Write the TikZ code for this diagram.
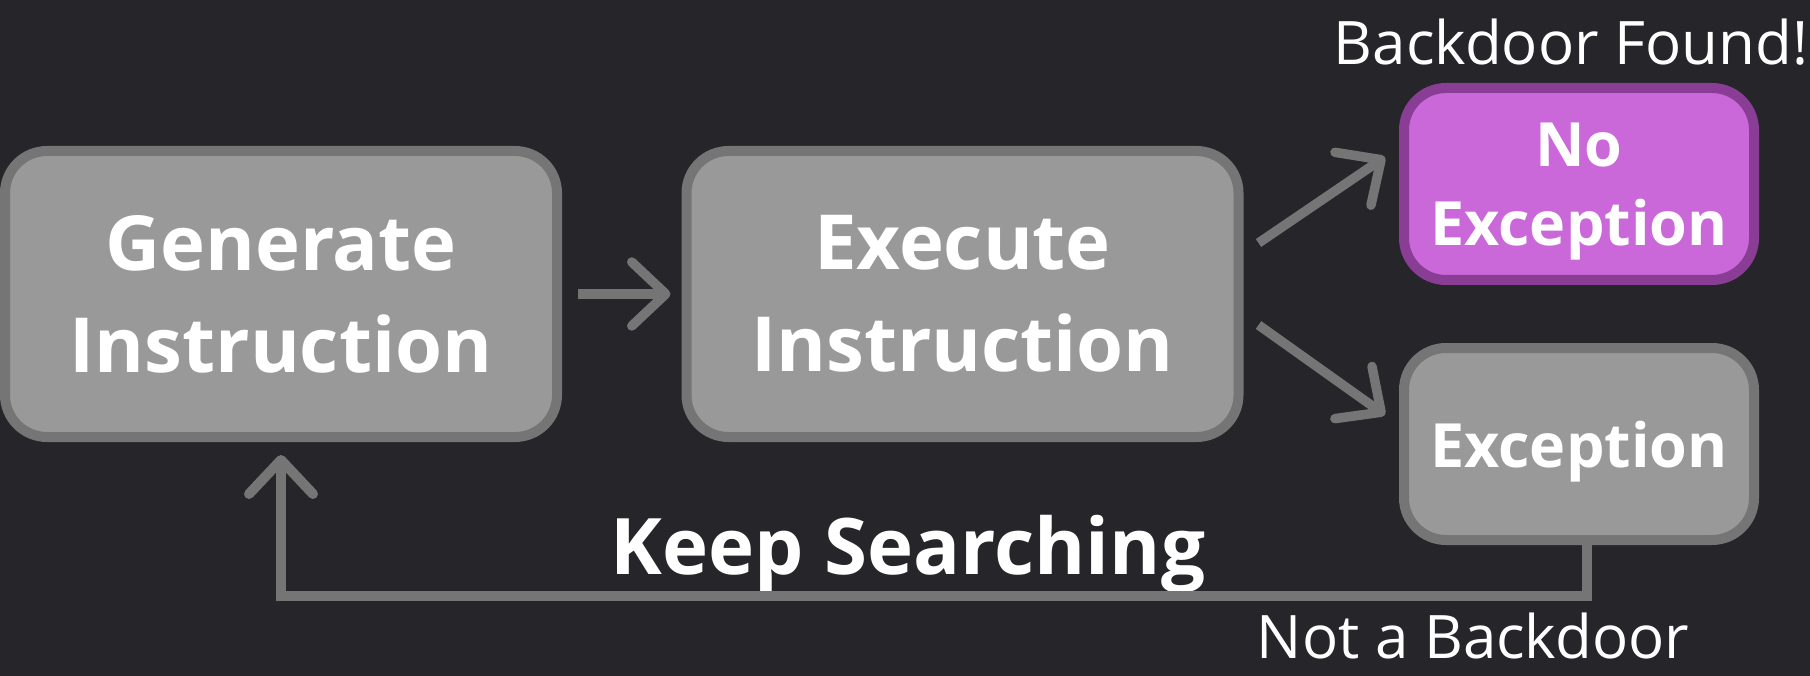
\documentclass[tikz,border=0pt]{standalone}
\usepackage{fontspec}
\setmainfont{Open Sans}
\usetikzlibrary{arrows.meta,calc}
\definecolor{bg}{HTML}{26252A}
\definecolor{boxfill}{HTML}{999999}
\definecolor{boxline}{HTML}{757575}
\definecolor{purfill}{HTML}{CA68DA}
\definecolor{purline}{HTML}{893D94}
\definecolor{arrgray}{HTML}{757575}
\tikzset{
  boxbase/.style={draw=boxline, fill=boxfill, line width=10pt, rounded corners=42pt,
    inner sep=0pt, align=center, text=white},
  bigbox/.style={boxbase, minimum width=552pt, minimum height=286pt,
    font=\bfseries\fontsize{76}{102}\selectfont},
  smallbox/.style={boxbase, minimum width=350pt, minimum height=192pt, text depth=0pt,
    font=\bfseries\fontsize{61}{79}\selectfont},
  purbox/.style={smallbox, draw=purline, fill=purfill},
  lbl/.style={text=white, inner sep=0pt, font=\fontsize{60}{70}\selectfont},
  boldlbl/.style={text=white, inner sep=0pt, font=\bfseries\fontsize{78}{90}\selectfont},
  arr/.style={draw=arrgray, line width=9.5pt,
    -{Straight Barb[length=34pt,width=64pt,round]}},
  loopline/.style={draw=arrgray, line width=10pt,
    -{Straight Barb[length=34pt,width=64pt,round]}}
}
\begin{document}
\begin{tikzpicture}[x=1pt,y=-1pt]
\fill[bg] (0,0) rectangle (1810,676);
\useasboundingbox (0,0) rectangle (1810,676);

\node[bigbox] (gen) at (281,294) {Generate\\Instruction};
\node[bigbox] (exe) at (962.5,294) {Execute\\Instruction};
\node[purbox] (noex) at (1579,184) {No\\Exception};
\node[smallbox] (ex) at (1579,444) {Exception};

\node[lbl, anchor=base] (found) at (1571,65) {Backdoor Found!};
\node[lbl, anchor=base] (notbd) at (1473,658) {Not a Backdoor};
\node[boldlbl, anchor=base] (keep) at (908,574) {Keep Searching};

\draw[arr] ([xshift=16pt]gen.east) -- ([xshift=-11pt]exe.west);
\draw[arr] ($(exe.east)+(15,-51)$) -- ($(noex.west)+(-14,-27)$);
\draw[arr] ($(exe.east)+(15,31)$) -- ($(ex.west)+(-14,-29)$);
\draw[loopline] ([xshift=8pt]ex.south) -- ++(0,51) -| ([yshift=-13pt]gen.south);
\end{tikzpicture}
\end{document}
